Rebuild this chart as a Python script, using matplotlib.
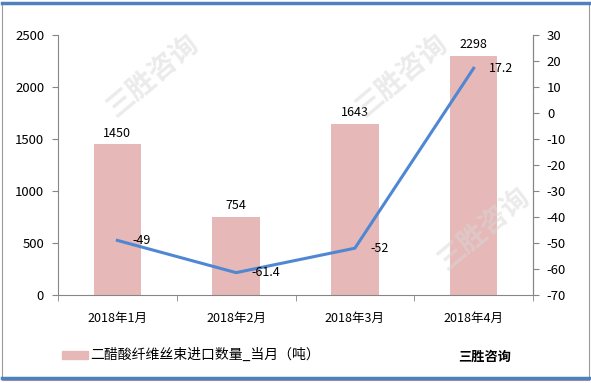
import matplotlib.pyplot as plt
import numpy as np
from matplotlib.patches import Rectangle
from matplotlib.lines import Line2D

plt.rcParams['font.family'] = ['Noto Sans CJK SC', 'DejaVu Sans']
plt.rcParams['axes.unicode_minus'] = False

months = ['2018年1月', '2018年2月', '2018年3月', '2018年4月']
qty = [1450, 754, 1643, 2298]
yoy = [-49, -61.4, -52, 17.2]
bar_label = '二醋酸纤维丝束进口数量_当月（吨）'

bar_color = '#e6b8b7'
line_color = '#4f87d3'
axis_color = '#868686'

fig = plt.figure(figsize=(5.91, 3.83), dpi=100)
ax = fig.add_axes([58/591, 1-295/383, (533-58)/591, (295-35)/383])
x = np.arange(len(months))

ax.bar(x, qty, width=0.4, color=bar_color, zorder=2)
for xi, v in zip(x, qty):
    ax.text(xi, v + 45, str(v), ha='center', va='bottom', fontsize=9)

ax.set_xlim(-0.5, 3.5)
ax.set_ylim(0, 2500)
ax.set_yticks(range(0, 2501, 500))
ax.set_xticks(x)
ax.set_xticklabels(months, fontsize=9)
ax.set_xticks(np.arange(-0.5, 4, 1), minor=True)
ax.tick_params(axis='x', which='major', length=0, pad=12)
ax.tick_params(axis='x', which='minor', length=4, color=axis_color)
ax.tick_params(axis='y', labelsize=9.5, length=4, color=axis_color, pad=6)
ax.spines['top'].set_visible(False)
for s in ['left', 'bottom', 'right']:
    ax.spines[s].set_color(axis_color)

ax2 = ax.twinx()
ax2.plot(x, yoy, color=line_color, lw=2.2, zorder=3)
ax2.set_ylim(-70, 30)
ax2.set_yticks(range(-70, 31, 10))
ax2.tick_params(axis='y', labelsize=9.5, length=4, color=axis_color, pad=6)
for s in ['top', 'left', 'bottom']:
    ax2.spines[s].set_visible(False)
ax2.spines['right'].set_color(axis_color)
for xi, v in zip(x, yoy):
    ax2.text(xi + 0.13, v, '%g' % v, ha='left', va='center', fontsize=9)

# watermarks
for wx, wy in [(0.26, 0.8), (0.68, 0.8), (0.82, 0.4)]:
    fig.text(wx, wy, '三胜咨询', fontsize=20, color='#d8d8d8', alpha=0.5,
             rotation=40, ha='center', va='center', fontweight='bold')

# legend
fig.patches.append(Rectangle((62/591, 1-359/383), 26/591, 8/383,
                             transform=fig.transFigure, color=bar_color))
fig.text(90/591, 1-355/383, bar_label, fontsize=10, va='center', ha='left')
fig.text(485/591, 1-357/383, '三胜咨询', fontsize=9.5, va='center', ha='center',
         fontweight='bold')

# frame
fig.patches.append(Rectangle((2/591, 3/383), 587/591, 377/383,
                             transform=fig.transFigure, fill=False,
                             ec='#9a9a9a', lw=0.8))
fig.lines.append(Line2D([2/591, 589/591], [1-3/383, 1-3/383],
                        transform=fig.transFigure, color='#4f81bd', lw=2.5))
fig.lines.append(Line2D([2/591, 589/591], [1-378/383, 1-378/383],
                        transform=fig.transFigure, color='#4f81bd', lw=2.5))

fig.savefig('out.png', dpi=100, facecolor='white')
